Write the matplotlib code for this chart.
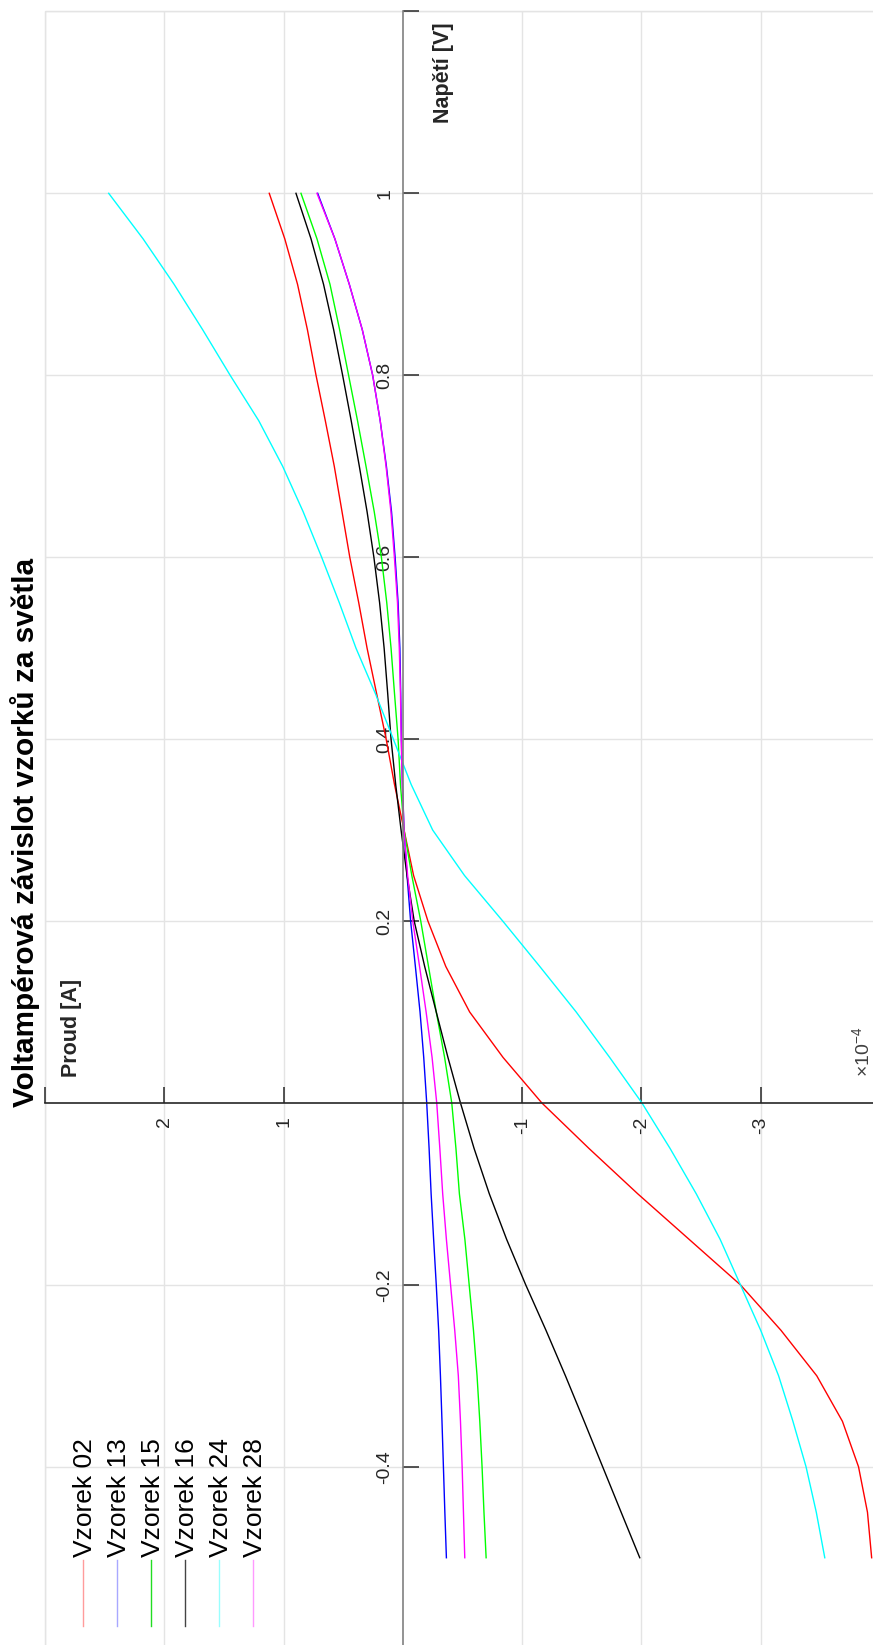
import matplotlib
matplotlib.use("Agg")
import matplotlib.pyplot as plt
from matplotlib.lines import Line2D

plt.rcParams["font.family"] = ["Liberation Sans", "DejaVu Sans"]
plt.rcParams["mathtext.fontset"] = "custom"
plt.rcParams["mathtext.rm"] = "Liberation Sans"

# napeti [V]
napeti = [-0.5, -0.45, -0.4, -0.35, -0.3, -0.25, -0.2, -0.15, -0.1, -0.05, 0.0,
          0.05, 0.1, 0.15, 0.2, 0.25, 0.3, 0.35, 0.4, 0.45, 0.5,
          0.55, 0.6, 0.65, 0.7, 0.75, 0.8, 0.85, 0.9, 0.95, 1.0]

# proud [1e-4 A]
vzorek_02 = [-3.93, -3.895, -3.82, -3.685, -3.47, -3.17, -2.83, -2.40, -1.97, -1.56, -1.165,
             -0.84, -0.56, -0.36, -0.21, -0.09, -0.01, 0.07, 0.14, 0.22, 0.30,
             0.37, 0.445, 0.51, 0.575, 0.65, 0.728, 0.80, 0.883, 0.99, 1.12]
vzorek_13 = [-0.365, -0.352, -0.34, -0.328, -0.315, -0.30, -0.28, -0.258, -0.237, -0.22, -0.20,
             -0.175, -0.144, -0.105, -0.065, -0.035, -0.01, 0.003, 0.012, 0.018, 0.025,
             0.04, 0.065, 0.095, 0.138, 0.19, 0.253, 0.34, 0.449, 0.57, 0.714]
vzorek_15 = [-0.698, -0.68, -0.664, -0.645, -0.622, -0.592, -0.556, -0.52, -0.474, -0.445, -0.41,
             -0.35, -0.28, -0.215, -0.15, -0.075, -0.01, 0.02, 0.04, 0.07, 0.099,
             0.135, 0.18, 0.24, 0.309, 0.38, 0.455, 0.53, 0.611, 0.72, 0.854]
vzorek_16 = [-1.986, -1.83, -1.675, -1.52, -1.363, -1.20, -1.03, -0.87, -0.725, -0.597, -0.483,
             -0.378, -0.28, -0.183, -0.095, -0.035, 0.015, 0.06, 0.099, 0.127, 0.157,
             0.195, 0.243, 0.30, 0.365, 0.433, 0.505, 0.58, 0.665, 0.77, 0.896]
vzorek_24 = [-3.537, -3.466, -3.38, -3.27, -3.15, -3.0, -2.83, -2.66, -2.46, -2.24, -2.004,
             -1.734, -1.453, -1.148, -0.837, -0.517, -0.25, -0.07, 0.08, 0.23, 0.393,
             0.533, 0.681, 0.836, 1.008, 1.208, 1.448, 1.678, 1.918, 2.178, 2.466]
vzorek_28 = [-0.519, -0.508, -0.497, -0.483, -0.465, -0.435, -0.40, -0.365, -0.334, -0.31, -0.284,
             -0.245, -0.195, -0.14, -0.083, -0.04, -0.01, 0.005, 0.014, 0.02, 0.03,
             0.045, 0.071, 0.10, 0.141, 0.19, 0.253, 0.34, 0.449, 0.57, 0.72]

nazvy = ["Vzorek 02", "Vzorek 13", "Vzorek 15", "Vzorek 16", "Vzorek 24", "Vzorek 28"]
barvy = ["#ff0000", "#0000ff", "#00ff00", "#000000", "#00ffff", "#ff00ff"]
barvy_legenda = ["#ff9c9c", "#a8a8ff", "#22dd22", "#444444", "#99ffff", "#ff99ff"]

proud_ticks = [3, 2, 1, -1, -2, -3, -4]
proud_labels = ["", "2", "1", "-1", "-2", "-3", ""]
napeti_ticks = [-0.6, -0.4, -0.2, 0.2, 0.4, 0.6, 0.8, 1.0, 1.2]
napeti_labels = ["", "-0.4", "-0.2", "0.2", "0.4", "0.6", "0.8", "1", ""]

W, H = 873, 1645
fig = plt.figure(figsize=(W / 100, H / 100), dpi=100)
# graf je otoceny o 90 stupnu: proud vodorovne (kladny vlevo), napeti svisle
ax = fig.add_axes([45 / W, -3.7 / H, 835 / W, 1637.3 / H])

for proud, c in zip([vzorek_02, vzorek_13, vzorek_15, vzorek_16, vzorek_24, vzorek_28], barvy):
    ax.plot(proud, napeti, color=c, lw=1.0)

ax.set_xlim(3, -4)
ax.set_ylim(-0.6, 1.2)
ax.set_xticks(proud_ticks, labels=proud_labels)
ax.set_yticks(napeti_ticks, labels=napeti_labels)

ax.spines["left"].set_position(("data", 0))
ax.spines["bottom"].set_position(("data", 0))
ax.spines["top"].set_visible(False)
ax.spines["right"].set_visible(False)
ax.spines["left"].set_color("#808080")
ax.spines["left"].set_linewidth(1.2)
ax.spines["bottom"].set_color("#262626")
ax.spines["bottom"].set_linewidth(1.2)
ax.patch.set_edgecolor("#dedede")
ax.patch.set_linewidth(1.0)

ax.tick_params(axis="both", direction="in", length=11.5, width=1.1, color="#262626",
               labelsize=14, labelcolor="#262626", labelrotation=90)
ax.tick_params(axis="y", pad=7)
ax.tick_params(axis="x", pad=9.5)
for t in ax.get_yticklabels():
    t.set_va("center")

ax.grid(True, color="#e4e4e4", linewidth=1.0)
ax.set_axisbelow(True)

fig.text(25 / W, 1 - 832 / H, "Voltampérová závislot vzorků za světla", rotation=90,
         ha="center", va="center", fontsize=21.4, fontweight="bold")
fig.text(444 / W, 1 - 22 / H, "Napětí [V]", rotation=90, ha="center", va="top",
         fontsize=15.5, fontweight="bold", color="#262626")
fig.text(71 / W, 1 - 1077 / H, "Proud [A]", rotation=90, ha="center", va="bottom",
         fontsize=15.5, fontweight="bold", color="#262626")
fig.text(862 / W, 1 - 1077 / H, r"$\times\mathregular{10^{-4}}$", rotation=90,
         ha="center", va="bottom", fontsize=14, color="#404040")

# legenda (svisla, vlevo dole)
for i, (nazev, c) in enumerate(zip(nazvy, barvy_legenda)):
    x = (83 + i * 33.9) / W
    fig.add_artist(Line2D([x, x], [1 - 1560 / H, 1 - 1626 / H], color=c, lw=1.0))
    fig.text(x + 2.5 / W, 1 - 1557 / H, nazev, rotation=90, ha="center", va="bottom",
             fontsize=19, color="black")

fig.savefig("out.png", dpi=100)
